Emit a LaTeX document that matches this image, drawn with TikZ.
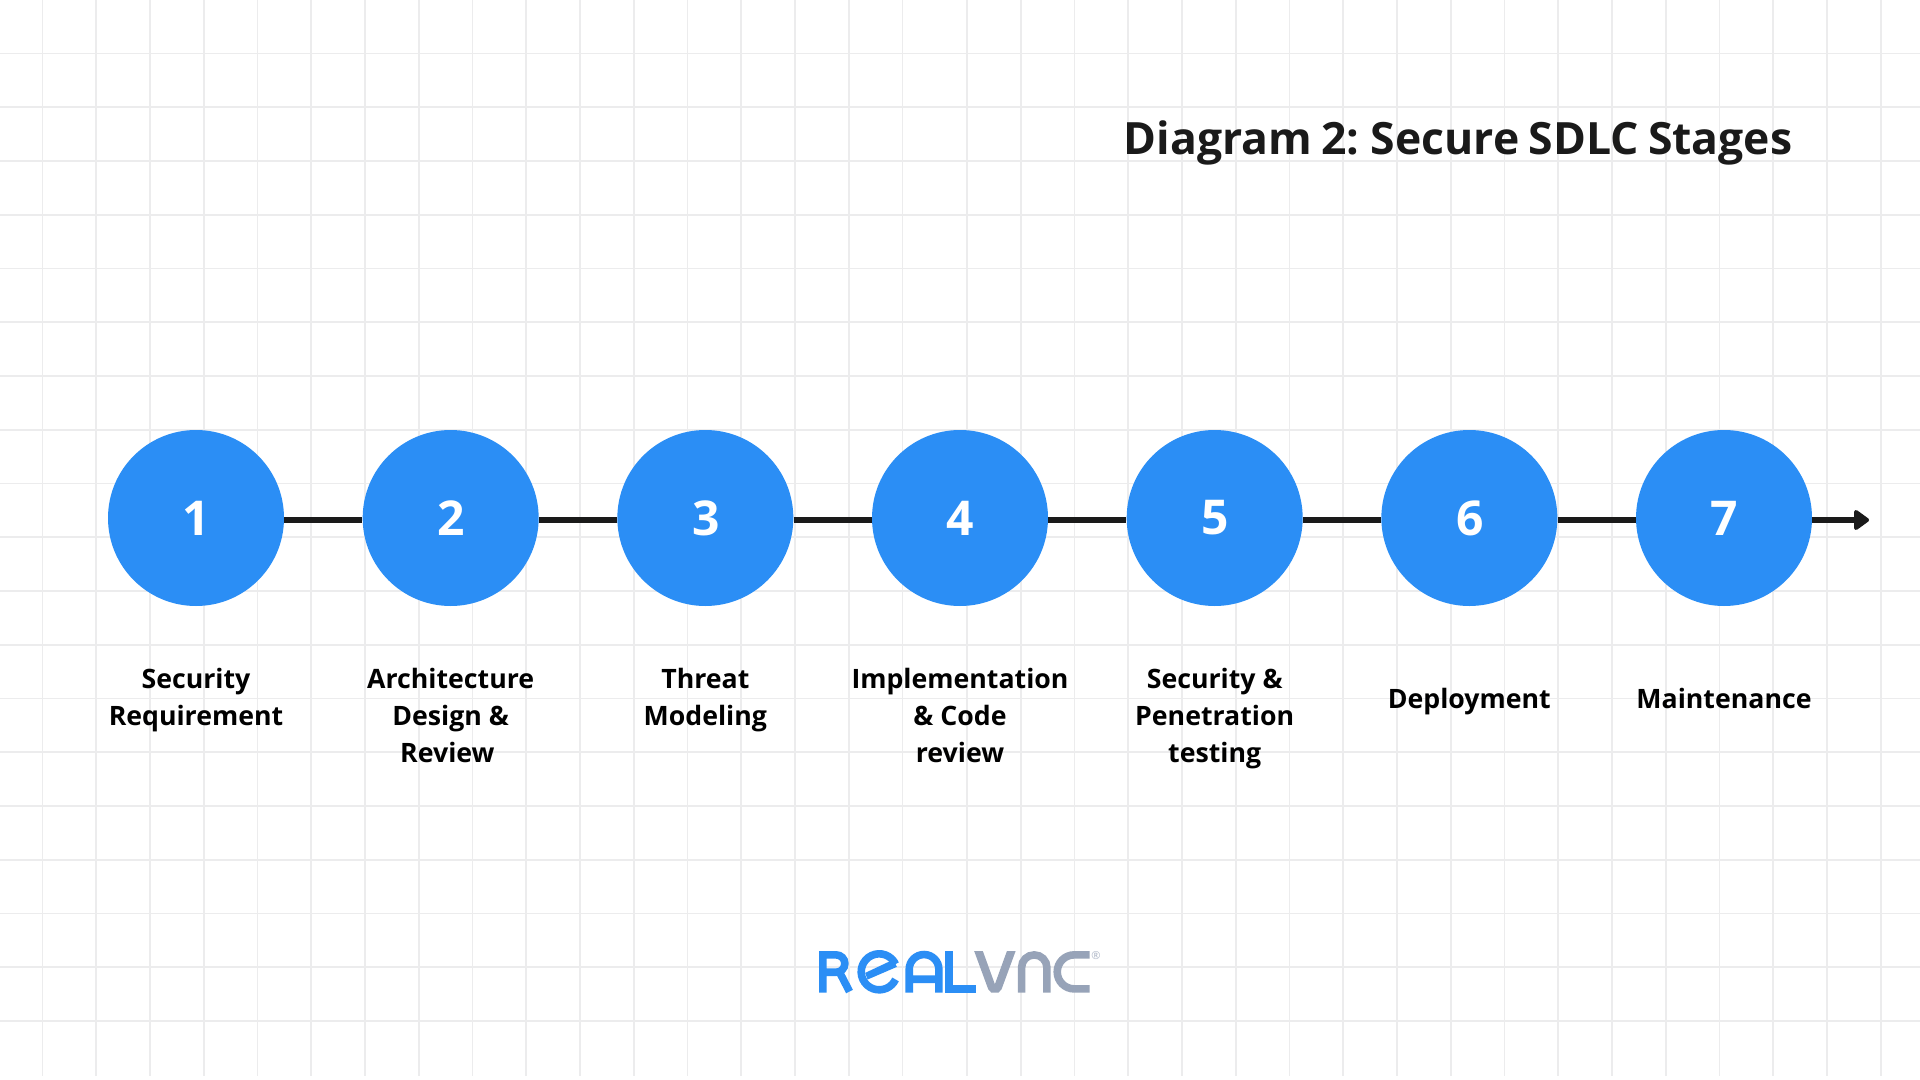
\documentclass[tikz,border=0pt]{standalone}
\usepackage{fontspec}
\setmainfont{Open Sans}
\newfontfamily\titlefont[WordSpace=0.8]{Open Sans}
\definecolor{gridc}{HTML}{ECECED}
\definecolor{blueb}{HTML}{2B8EF5}
\definecolor{inkc}{HTML}{1A1A1A}
\definecolor{greyl}{HTML}{97A3B8}
\tikzset{
  stage/.style={circle,fill=blueb,minimum size=88pt,inner sep=0pt,text=white,font=\fontsize{24}{24}\bfseries\selectfont},
  lab/.style={align=center,inner sep=0pt,text=black,font=\fontsize{13.35}{18.35}\bfseries\selectfont},
  gridl/.style={draw=gridc,line width=0.8pt},
  conn/.style={draw=inkc,line width=2.8pt},
  bluel/.style={draw=blueb,line width=3.8pt,line join=miter},
  greyk/.style={draw=greyl,line width=3.8pt,line join=miter}
}
\begin{document}
\begin{tikzpicture}[x=0.5pt,y=-0.5pt]
\useasboundingbox (0,0) rectangle (1920,1080);
\fill[white] (0,0) rectangle (1920,1080);
\foreach \k in {0,...,16} {\pgfmathsetmacro\xx{42.5+53.75*\k}\draw[gridl] (\xx,0) -- (\xx,1076);}
\foreach \k in {0,...,17} {\pgfmathsetmacro\xx{967+53.75*\k}\draw[gridl] (\xx,0) -- (\xx,1076);}
\foreach \k in {0,...,18} {\pgfmathsetmacro\yy{53.5+53.75*\k}\draw[gridl] (0,\yy) -- (1920,\yy);}
\node[anchor=base,text=inkc,font=\fontsize{22.25}{26}\titlefont\bfseries\selectfont,inner sep=0pt] (title) at (1458,155) {Diagram 2:\hspace{-0.8pt} Secure SDLC Stages};
\foreach \n/\x/\d in {1/196/0.6,2/450.67/0.6,3/705.33/0.6,4/960/0.6,5/1214.67/0.6,6/1469.33/0,7/1724/0}{
 \node[stage] (c\n) at (\x,518) {\hspace*{0.4pt}\raisebox{-\d pt}{\n}};
}
\coordinate (tipbase) at (1858,520);
\foreach \a/\b in {1/2,2/3,3/4,4/5,5/6,6/7}{
 \draw[conn] (c\a.east |- tipbase) -- (c\b.west |- tipbase);
}
\draw[conn] (c7.east |- tipbase) -- (tipbase);
\draw[inkc,fill=inkc,line width=2pt,line join=round] (1856,512) -- (1867,520) -- (1856,528) -- cycle;
\node[lab,anchor=north] (l1) at (196,668.3) {Security\\Requirement};
\node[lab,anchor=north] (l2) at (450.67,668.3) {Architecture\\Design \&\\Review\hspace*{3.3pt}};
\node[lab,anchor=north] (l3) at (705.33,668.3) {Threat\\Modeling};
\node[lab,anchor=north] (l4) at (960,668.3) {Implementation\\\& Code\\review};
\node[lab,anchor=north] (l5) at (1214.67,668.3) {Security \&\\Penetration\\testing};
\node[lab,anchor=north] (l6) at (1469.33,687.5) {Deployment};
\node[lab,anchor=north] (l7) at (1724,687.5) {Maintenance};
% logo (coordinates: zoom pixels /3 + origin)
\begin{scope}[x=0.1667pt,y=-0.1667pt,shift={(780*3,920*3)}]
\draw[bluel] (128,217) -- (128,104) -- (168,104) arc[start angle=-90,end angle=90,radius=26] -- (128,156) (178,156) -- (208,214);
\fill[blueb] (340,118) -- (350,140) -- (262,178) -- (255,158) -- cycle;
\draw[bluel] (346,132) arc[start angle=-25,end angle=-335,radius=54];
\draw[bluel] (387,217) -- (387,147.5) arc[start angle=180,end angle=360,radius=44.5] -- (476,217) (387,177) -- (476,177);
\draw[bluel] (507,93) -- (507,206) -- (587,206);
\fill[greyl] (582,93) -- (608,93) -- (644,192) -- (680,93) -- (706,93) -- (664,207) -- (655,217) -- (633,217) -- (624,207) -- cycle;
\draw[greyk] (724,217) -- (724,142) arc[start angle=180,end angle=360,radius=38] -- (800,217);
\draw[greyk] (928,104) -- (882,104) arc[start angle=-90,end angle=-270,radius=51] -- (928,206);
\node[text=greyl!80,font=\fontsize{5.5}{5.5}\selectfont,inner sep=0pt] (reg) at (947,105) {®};
\end{scope}
\end{tikzpicture}
\end{document}
